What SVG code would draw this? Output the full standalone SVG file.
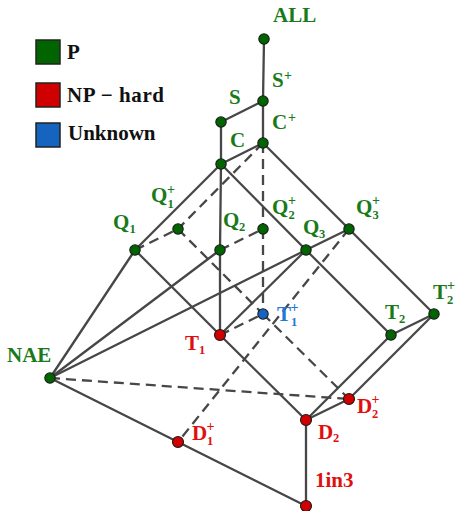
<svg xmlns="http://www.w3.org/2000/svg" width="458" height="511" viewBox="0 0 458 511">
<style>
  .e { stroke: #474747; stroke-width: 2.3; fill: none; stroke-linecap: round; }
  .d { stroke-dasharray: 10 6; stroke-linecap: butt; }
  .n { stroke: #1a1a1a; stroke-width: 1.1; }
  .g { fill: #006400; }
  .r { fill: #d10000; }
  .b { fill: #1565c0; }
  text { font-family: "Liberation Serif", "Times New Roman", serif; font-weight: bold; font-size: 21px; }
  .tg { fill: #1a7a1a; }
  .tr { fill: #e01010; }
  .tb { fill: #2178d8; }
  .s { font-size: 12.5px; }
  .p { font-size: 14px; }
  .lg { stroke: #222; stroke-width: 1.5; }
</style>
<rect width="458" height="511" fill="#ffffff"/>
<g id="legend">
  <rect class="lg g" x="36" y="40" width="24" height="24"/>
  <rect class="lg r" x="36" y="83" width="24" height="24"/>
  <rect class="lg b" x="36" y="123" width="24" height="24"/>
  <text x="67" y="59" fill="#111">P</text>
  <text x="67" y="102" fill="#111" textLength="97">NP − hard</text>
  <text x="68" y="140" fill="#111">Unknown</text>
</g>
<g id="connectors">
  <line class="e" x1="264" y1="39" x2="263" y2="101"/>
  <line class="e" x1="263" y1="101" x2="221" y2="122"/>
  <line class="e" x1="263" y1="101" x2="263" y2="143"/>
  <line class="e" x1="221" y1="122" x2="221" y2="164"/>
  <line class="e" x1="221" y1="164" x2="263" y2="143"/>
  <line class="e" x1="221" y1="164" x2="135" y2="250"/>
  <line class="e" x1="221" y1="164" x2="220" y2="250"/>
  <line class="e" x1="220" y1="250" x2="220" y2="335"/>
  <line class="e" x1="221" y1="164" x2="306" y2="250"/>
  <line class="e" x1="263" y1="143" x2="349" y2="229"/>
  <line class="e" x1="135" y1="250" x2="220" y2="335"/>
  <line class="e" x1="50" y1="378" x2="135" y2="250"/>
  <line class="e" x1="50" y1="378" x2="220" y2="250"/>
  <line class="e" x1="50" y1="378" x2="306" y2="250"/>
  <line class="e" x1="220" y1="335" x2="306" y2="250"/>
  <line class="e" x1="220" y1="335" x2="306" y2="420"/>
  <line class="e" x1="306" y1="250" x2="349" y2="229"/>
  <line class="e" x1="306" y1="250" x2="391" y2="335"/>
  <line class="e" x1="349" y1="229" x2="434" y2="314"/>
  <line class="e" x1="391" y1="335" x2="434" y2="314"/>
  <line class="e" x1="391" y1="335" x2="306" y2="420"/>
  <line class="e" x1="434" y1="314" x2="349" y2="399"/>
  <line class="e" x1="306" y1="420" x2="349" y2="399"/>
  <line class="e" x1="306" y1="420" x2="306" y2="506"/>
  <line class="e" x1="50" y1="378" x2="178" y2="442"/>
  <line class="e" x1="178" y1="442" x2="306" y2="506"/>
  <line class="e d" x1="263" y1="143" x2="263" y2="229"/>
  <line class="e d" x1="263" y1="229" x2="263" y2="314"/>
  <line class="e d" x1="263" y1="143" x2="178" y2="229"/>
  <line class="e d" x1="135" y1="250" x2="178" y2="229"/>
  <line class="e d" x1="178" y1="229" x2="263" y2="314"/>
  <line class="e d" x1="263" y1="314" x2="349" y2="399"/>
  <line class="e d" x1="220" y1="250" x2="263" y2="229"/>
  <line class="e d" x1="220" y1="335" x2="263" y2="314"/>
  <line class="e d" x1="349" y1="229" x2="178" y2="442"/>
  <line class="e d" x1="50" y1="378" x2="349" y2="399"/>
</g>
<g id="node-ALL"><circle class="n g" cx="264" cy="39" r="5.2"/><text class="tg" x="273" y="22">ALL</text></g>
<g id="node-Splus"><circle class="n g" cx="263" cy="101" r="5.2"/><text class="tg" x="272" y="87">S<tspan class="p" x="284" y="80">+</tspan></text></g>
<g id="node-S"><circle class="n g" cx="221" cy="122" r="5.2"/><text class="tg" x="229" y="104">S</text></g>
<g id="node-Cplus"><circle class="n g" cx="263" cy="143" r="5.2"/><text class="tg" x="272" y="129">C<tspan class="p" x="288" y="122">+</tspan></text></g>
<g id="node-C"><circle class="n g" cx="221" cy="164" r="5.2"/><text class="tg" x="230" y="147">C</text></g>
<g id="node-Q1plus"><circle class="n g" cx="178" cy="229" r="5.2"/><text class="tg" x="151" y="202">Q<tspan class="s" x="167.5" y="208.2">1</tspan><tspan class="p" x="167" y="194">+</tspan></text></g>
<g id="node-Q1"><circle class="n g" cx="135" cy="250" r="5.2"/><text class="tg" x="113" y="229">Q<tspan class="s" x="129.5" y="233">1</tspan></text></g>
<g id="node-Q2"><circle class="n g" cx="220" cy="250" r="5.2"/><text class="tg" x="223" y="227">Q<tspan class="s" x="239" y="231">2</tspan></text></g>
<g id="node-Q2plus"><circle class="n g" cx="263" cy="229" r="5.2"/><text class="tg" x="272" y="214">Q<tspan class="s" x="288.5" y="219.2">2</tspan><tspan class="p" x="288" y="205">+</tspan></text></g>
<g id="node-Q3"><circle class="n g" cx="306" cy="250" r="5.2"/><text class="tg" x="303" y="234">Q<tspan class="s" x="319" y="238">3</tspan></text></g>
<g id="node-Q3plus"><circle class="n g" cx="349" cy="229" r="5.2"/><text class="tg" x="356" y="214">Q<tspan class="s" x="372.5" y="219.2">3</tspan><tspan class="p" x="372" y="205">+</tspan></text></g>
<g id="node-T1plus"><circle class="n b" cx="263" cy="314" r="5.2"/><text class="tb" x="277" y="321">T<tspan class="s" x="291" y="326.2">1</tspan><tspan class="p" x="290.5" y="312">+</tspan></text></g>
<g id="node-T2"><circle class="n g" cx="391" cy="335" r="5.2"/><text class="tg" x="385" y="319">T<tspan class="s" x="399" y="323">2</tspan></text></g>
<g id="node-T2plus"><circle class="n g" cx="434" cy="314" r="5.2"/><text class="tg" x="433" y="299">T<tspan class="s" x="447" y="304.2">2</tspan><tspan class="p" x="447" y="290">+</tspan></text></g>
<g id="node-T1"><circle class="n r" cx="220" cy="335" r="5.5"/><text class="tr" x="185" y="350">T<tspan class="s" x="199" y="354">1</tspan></text></g>
<g id="node-NAE"><circle class="n g" cx="50" cy="378" r="5.2"/><text class="tg" x="7" y="362">NAE</text></g>
<g id="node-D1plus"><circle class="n r" cx="178" cy="442" r="5.5"/><text class="tr" x="192" y="440">D<tspan class="s" x="207" y="445.2">1</tspan><tspan class="p" x="206.5" y="431">+</tspan></text></g>
<g id="node-D2plus"><circle class="n r" cx="349" cy="399" r="5.5"/><text class="tr" x="357" y="413">D<tspan class="s" x="372" y="418.2">2</tspan><tspan class="p" x="371.5" y="404">+</tspan></text></g>
<g id="node-D2"><circle class="n r" cx="306" cy="420" r="5.5"/><text class="tr" x="318" y="439">D<tspan class="s" x="333" y="442">2</tspan></text></g>
<g id="node-1in3"><circle class="n r" cx="306" cy="506" r="5.5"/><text class="tr" x="315" y="487">1in3</text></g>
</svg>
